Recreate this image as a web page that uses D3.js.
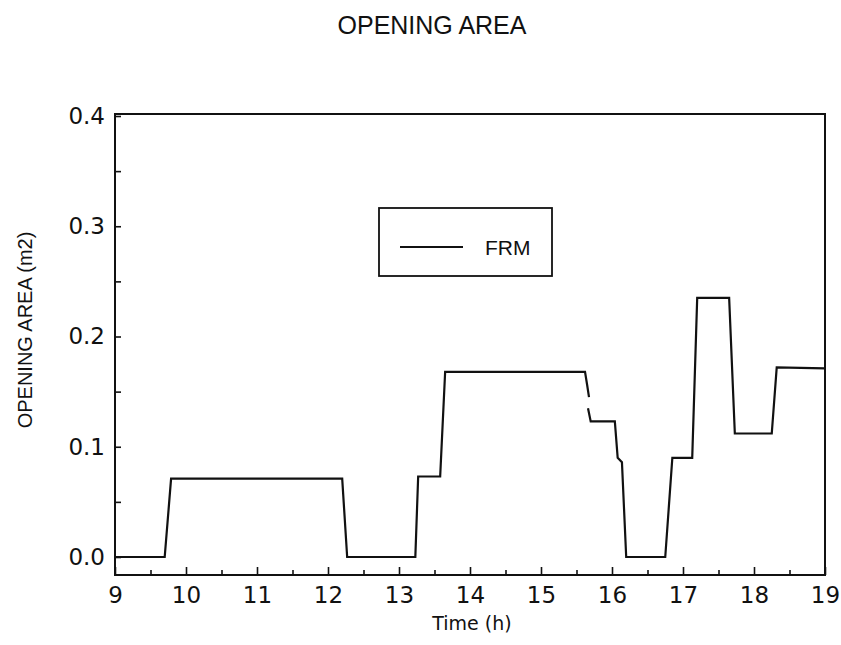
<!DOCTYPE html>
<html>
<head>
<meta charset="utf-8">
<script src="https://cdn.jsdelivr.net/npm/d3@7/dist/d3.min.js"></script>
<style>
  body { margin: 0; background: #fff; }
  svg { display: block; }
</style>
</head>
<body>
<div id="chart"></div>
<script>
// FRM opening area, two pieces (the trace has a small break near 15.65 h)
const frmTimeA = [9, 9.70, 9.79, 12.20, 12.27, 13.23, 13.27, 13.58, 13.65, 15.62, 15.65, 15.676];
const frmAreaA = [0, 0, 0.071, 0.071, 0, 0, 0.073, 0.073, 0.168, 0.168, 0.156, 0.145];
const frmTimeB = [15.662, 15.70, 16.04, 16.08, 16.14, 16.20, 16.75, 16.85, 17.13, 17.20, 17.65, 17.73, 18.25, 18.32, 19];
const frmAreaB = [0.135, 0.123, 0.123, 0.09, 0.086, 0, 0, 0.09, 0.09, 0.235, 0.235, 0.112, 0.112, 0.172, 0.171];

const xTicks = [9, 10, 11, 12, 13, 14, 15, 16, 17, 18, 19];
const xMinorTicks = [9.5, 10.5, 11.5, 12.5, 13.5, 14.5, 15.5, 16.5, 17.5, 18.5];
const yTicks = [0, 0.1, 0.2, 0.3, 0.4];
const yMinorTicks = [0.05, 0.15, 0.25, 0.35];

const width = 841, height = 645;
const plotLeft = 115, plotRight = 825, plotTop = 114, plotBottom = 575;

const svg = d3.select('#chart').append('svg')
  .attr('width', width)
  .attr('height', height);

const x = d3.scaleLinear().domain([9, 19]).range([plotLeft, plotRight]);
const y = d3.scaleLinear().domain([0, 0.4]).range([557, 116]);

// frame
svg.append('rect')
  .attr('x', plotLeft).attr('y', plotTop)
  .attr('width', plotRight - plotLeft).attr('height', plotBottom - plotTop)
  .attr('fill', 'none').attr('stroke', '#111').attr('stroke-width', 2);

// x axis
svg.append('g')
  .attr('transform', `translate(0,${plotBottom})`)
  .call(d3.axisBottom(x).tickValues(xTicks).tickSize(-8).tickPadding(12).tickFormat(d3.format('d')));
svg.append('g')
  .attr('transform', `translate(0,${plotBottom})`)
  .call(d3.axisBottom(x).tickValues(xMinorTicks).tickSize(-5).tickFormat(''));

// y axis
svg.append('g')
  .attr('transform', `translate(${plotLeft},0)`)
  .call(d3.axisLeft(y).tickValues(yTicks).tickSize(-6).tickPadding(10).tickFormat(d3.format('.1f')));
svg.append('g')
  .attr('transform', `translate(${plotLeft},0)`)
  .call(d3.axisLeft(y).tickValues(yMinorTicks).tickSize(-6).tickFormat(''));

svg.selectAll('.domain').remove();
svg.selectAll('.tick line').attr('stroke', '#111').attr('stroke-width', 1.6);
svg.selectAll('.tick text')
  .attr('fill', '#111')
  .style('font-family', '"DejaVu Sans", sans-serif')
  .style('font-size', '23px');

// series
const line = d3.line()
  .x((d) => x(d[0]))
  .y((d) => y(d[1]));

const pieces = [d3.zip(frmTimeA, frmAreaA), d3.zip(frmTimeB, frmAreaB)];
svg.selectAll('.frm')
  .data(pieces)
  .enter()
  .append('path')
  .attr('class', 'frm')
  .attr('d', line)
  .attr('fill', 'none')
  .attr('stroke', '#111')
  .attr('stroke-width', 2.2)
  .attr('stroke-linejoin', 'miter');

// legend
const legend = svg.append('g');
legend.append('rect')
  .attr('x', 379).attr('y', 208)
  .attr('width', 173).attr('height', 68)
  .attr('fill', '#fff').attr('stroke', '#111').attr('stroke-width', 1.8);
legend.append('line')
  .attr('x1', 400).attr('x2', 463)
  .attr('y1', 247).attr('y2', 247)
  .attr('stroke', '#111').attr('stroke-width', 2.2);
legend.append('text')
  .attr('x', 485).attr('y', 255)
  .attr('fill', '#111')
  .style('font-family', '"Liberation Sans", Arial, sans-serif')
  .style('font-size', '21px')
  .text('FRM');

// titles
svg.append('text')
  .attr('x', 432).attr('y', 34)
  .attr('text-anchor', 'middle')
  .attr('fill', '#111')
  .style('font-family', '"Liberation Sans", Arial, sans-serif')
  .style('font-size', '25px')
  .text('OPENING AREA');

svg.append('text')
  .attr('x', 472).attr('y', 630)
  .attr('text-anchor', 'middle')
  .attr('fill', '#111')
  .style('font-family', '"DejaVu Sans", sans-serif')
  .style('font-size', '19px')
  .text('Time (h)');

svg.append('text')
  .attr('transform', 'translate(32,330) rotate(-90)')
  .attr('text-anchor', 'middle')
  .attr('fill', '#111')
  .style('font-family', '"Liberation Sans", Arial, sans-serif')
  .style('font-size', '20px')
  .text('OPENING AREA (m2)');
</script>
</body>
</html>
